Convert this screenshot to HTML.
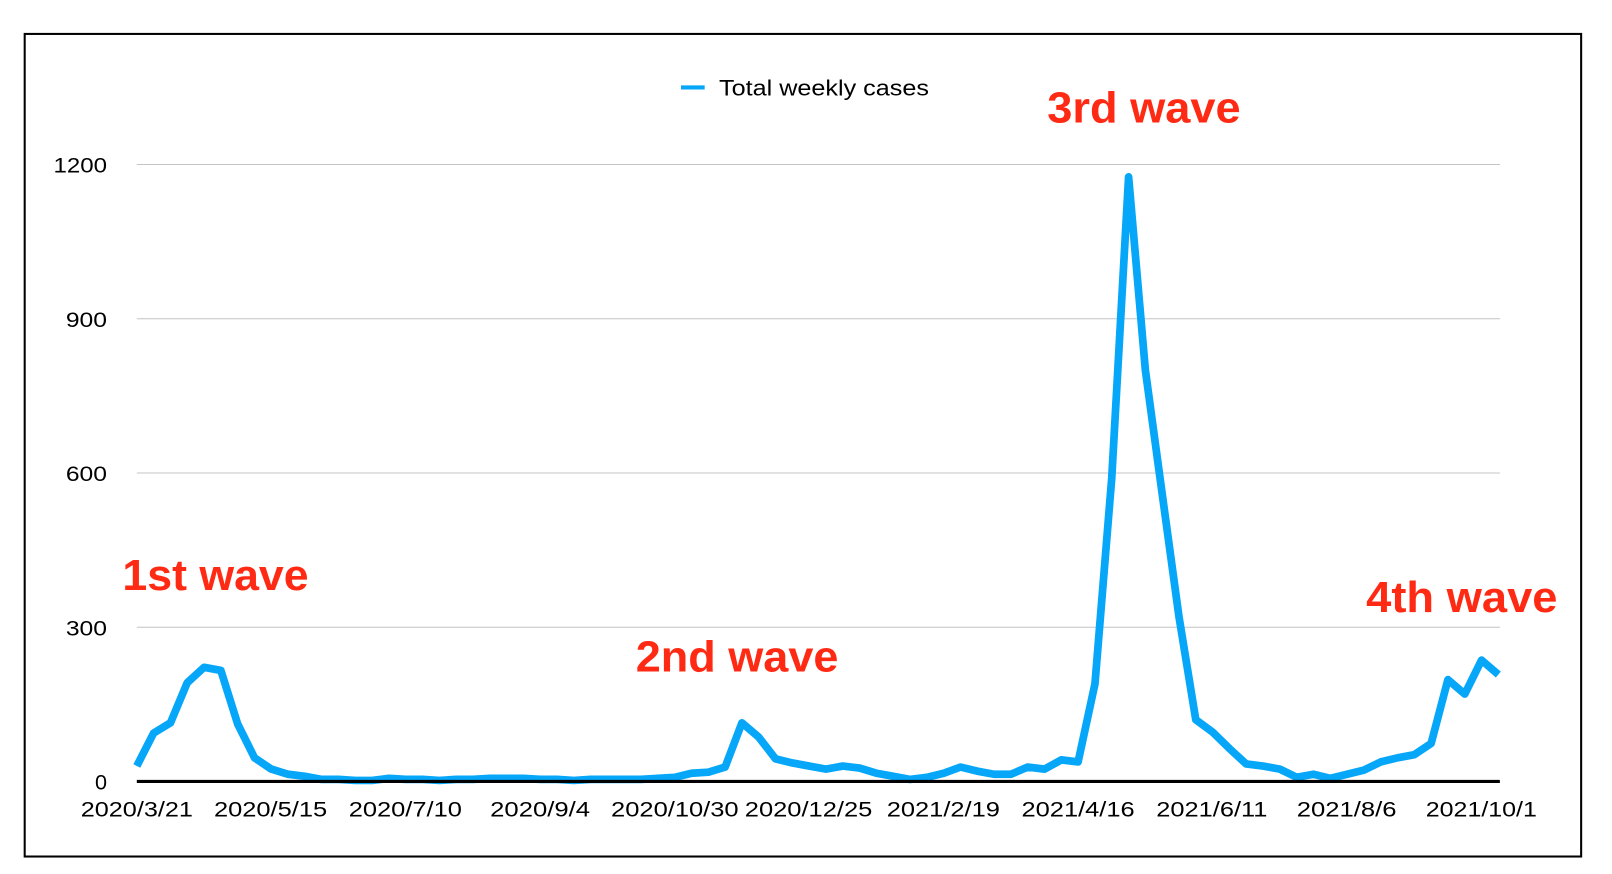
<!DOCTYPE html>
<html><head><meta charset="utf-8"><style>
html,body{margin:0;padding:0;background:#fff;}
svg{display:block;}
text{font-family:"Liberation Sans",Arial,sans-serif;}
</style></head><body>
<svg width="1612" height="874" viewBox="0 0 1567 850" preserveAspectRatio="none">
<rect x="0" y="0" width="1567" height="850" fill="#fff"/>
<rect x="24" y="33" width="1513" height="800" fill="none" stroke="#000" stroke-width="2"/>
<g stroke="#c4c4c4" stroke-width="1">
<line x1="133" y1="160" x2="1458" y2="160"/>
<line x1="133" y1="310" x2="1458" y2="310"/>
<line x1="133" y1="460" x2="1458" y2="460"/>
<line x1="133" y1="610" x2="1458" y2="610"/>
</g>
<g font-size="21" fill="#000" text-anchor="end">
<text x="104" y="168" textLength="52" lengthAdjust="spacingAndGlyphs">1200</text>
<text x="104" y="318" textLength="40" lengthAdjust="spacingAndGlyphs">900</text>
<text x="104" y="468" textLength="40" lengthAdjust="spacingAndGlyphs">600</text>
<text x="104" y="618" textLength="40" lengthAdjust="spacingAndGlyphs">300</text>
<text x="104" y="768">0</text>
</g>
<polyline fill="none" stroke="#06a6f8" stroke-width="7.5" stroke-linejoin="round" points="133,745 149.3,713 165.7,703 182,664 198.4,649 214.7,652 231,704 247.4,737 263.7,748 280.1,753 296.4,755 312.7,758 329.1,758 345.4,759 361.8,759 378.1,757 394.4,758 410.8,758 427.1,759 443.5,758 459.8,758 476.1,757 492.5,757 508.8,757 525.2,758 541.5,758 557.8,759 574.2,758 590.5,758 606.9,758 623.2,758 639.5,757 655.9,756 672.2,752 688.6,751 704.9,746 721.2,703 737.6,717 753.9,738 770.3,742 786.6,745 802.9,748 819.3,745 835.6,747 852,752 868.3,755 884.6,758 901,756 917.3,752 933.7,746 950,750 966.3,753 982.7,753 999,746 1015.4,748 1031.7,739 1048,741 1064.4,665 1080.7,465 1097.1,172 1113.4,360 1129.7,480 1146.1,600 1162.4,700 1178.8,712 1195.1,728 1211.4,743 1227.8,745 1244.1,748 1260.5,756 1276.8,753 1293.1,757 1309.5,753 1325.8,749 1342.2,741 1358.5,737 1374.8,734 1391.2,723 1407.5,661 1423.9,675 1440.2,642 1456.5,656"/>
<line x1="133" y1="760" x2="1458" y2="760" stroke="#000" stroke-width="3"/>
<g font-size="21" fill="#000" text-anchor="middle" lengthAdjust="spacingAndGlyphs">
<text x="133" y="794" textLength="109" lengthAdjust="spacingAndGlyphs">2020/3/21</text>
<text x="263" y="794" textLength="110" lengthAdjust="spacingAndGlyphs">2020/5/15</text>
<text x="394" y="794" textLength="110" lengthAdjust="spacingAndGlyphs">2020/7/10</text>
<text x="525" y="794" textLength="97" lengthAdjust="spacingAndGlyphs">2020/9/4</text>
<text x="656" y="794" textLength="124" lengthAdjust="spacingAndGlyphs">2020/10/30</text>
<text x="786" y="794" textLength="124" lengthAdjust="spacingAndGlyphs">2020/12/25</text>
<text x="917" y="794" textLength="110" lengthAdjust="spacingAndGlyphs">2021/2/19</text>
<text x="1048" y="794" textLength="110" lengthAdjust="spacingAndGlyphs">2021/4/16</text>
<text x="1178" y="794" textLength="108" lengthAdjust="spacingAndGlyphs">2021/6/11</text>
<text x="1309" y="794" textLength="97" lengthAdjust="spacingAndGlyphs">2021/8/6</text>
<text x="1440" y="794" textLength="108" lengthAdjust="spacingAndGlyphs">2021/10/1</text>
</g>
<line x1="662" y1="85" x2="685" y2="85" stroke="#06a6f8" stroke-width="4"/>
<text x="699" y="93" font-size="22" fill="#000" textLength="204" lengthAdjust="spacingAndGlyphs">Total weekly cases</text>
<g font-size="42" font-weight="bold" fill="#ff2a14">
<text x="119" y="574" textLength="181" lengthAdjust="spacingAndGlyphs">1st wave</text>
<text x="618" y="653" textLength="197" lengthAdjust="spacingAndGlyphs">2nd wave</text>
<text x="1018" y="119" textLength="188" lengthAdjust="spacingAndGlyphs">3rd wave</text>
<text x="1328" y="595" textLength="186" lengthAdjust="spacingAndGlyphs">4th wave</text>
</g>
</svg>
</body></html>
